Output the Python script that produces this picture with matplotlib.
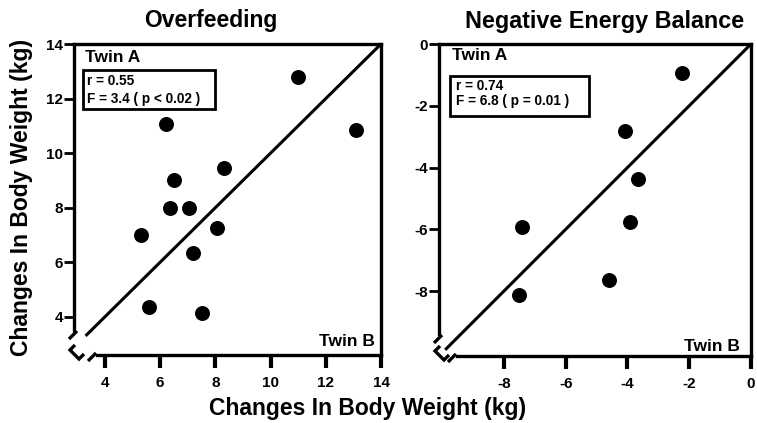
import matplotlib
matplotlib.use("Agg")
import matplotlib.pyplot as plt
from matplotlib.patches import Rectangle

plt.rcParams['font.family'] = ['Liberation Sans', 'DejaVu Sans']
plt.rcParams['font.weight'] = 'bold'
plt.rcParams['axes.unicode_minus'] = False

# overfeeding: twin B (x) vs twin A (y)
over_b = [11.0, 13.1, 6.2, 8.3, 6.5, 6.35, 7.05, 8.05, 5.3, 7.2, 5.6, 7.5]
over_a = [12.8, 10.85, 11.05, 9.45, 9.0, 8.0, 8.0, 7.25, 7.0, 6.35, 4.35, 4.15]
over_ticks = [4, 6, 8, 10, 12, 14]
over_line = [3.3, 14]
over_stats = ['r = 0.55', 'F = 3.4 ( p < 0.02 )']

# negative energy balance
neg_b = [-2.22, -4.09, -3.67, -3.93, -7.42, -4.6, -7.51]
neg_a = [-0.95, -2.81, -4.36, -5.76, -5.94, -7.63, -8.13]
neg_ticks = [-8, -6, -4, -2, 0]
neg_line = [-9.9, 0]
neg_stats = ['r = 0.74', 'F = 6.8 ( p = 0.01 )']

W, H = 757, 423
fig = plt.figure(figsize=(W / 100, H / 100), dpi=100)

LW = 2.4


def make_axes(x0, x1, y0, y1):
    return fig.add_axes([x0 / W, 1 - y1 / H, (x1 - x0) / W, (y1 - y0) / H])


def breaks(ax, wpx, hpx, spine_dy, spine_dx):
    # little discontinuity marks at the lower-left corner, given in pixels
    def seg(pts):
        xs = [p[0] / wpx for p in pts]
        ys = [p[1] / hpx for p in pts]
        ax.plot(xs, ys, color='k', lw=LW, transform=ax.transAxes,
                clip_on=False, solid_capstyle='butt', solid_joinstyle='miter')
    seg([(-5, spine_dy - 9), (3, spine_dy - 1)])
    seg([(1, 10), (-4, 5), (5, -4), (10, 1)])
    seg([(spine_dx - 9, -6), (spine_dx - 1, 2)])


def panel(ax, xb, ya, lim, ticks, line, stats, wpx, hpx,
          spine_dy, spine_dx, box, tx):
    ax.set_xlim(lim[0])
    ax.set_ylim(lim[1])
    ax.plot(line, line, color='k', lw=2.2, solid_capstyle='butt')
    ax.scatter(xb, ya, s=95, color='k', zorder=3)
    for s in ax.spines.values():
        s.set_linewidth(LW)
    lo_y = lim[1][0] + spine_dy / hpx * (lim[1][1] - lim[1][0])
    lo_x = lim[0][0] + spine_dx / wpx * (lim[0][1] - lim[0][0])
    ax.spines['left'].set_bounds(lo_y, lim[1][1])
    ax.spines['bottom'].set_bounds(lo_x, lim[0][1])
    breaks(ax, wpx, hpx, spine_dy, spine_dx)
    ax.set_xticks(ticks)
    ax.set_yticks(ticks)
    ax.tick_params(axis='x', length=9, width=3, pad=6, labelsize=11)
    ax.tick_params(axis='y', length=7, width=2, pad=1, labelsize=11)
    for lab in ax.get_xticklabels() + ax.get_yticklabels():
        lab.set_fontweight('bold')
    ax.text(tx[0], tx[1], 'Twin A', transform=ax.transAxes, fontsize=12.5,
            ha='left', va='center')
    ax.text(tx[2], tx[3], 'Twin B', transform=ax.transAxes, fontsize=12.5,
            ha='right', va='center')
    bx0, by0, bx1, by1 = box
    ax.add_patch(Rectangle((bx0, by0), bx1 - bx0, by1 - by0, fill=False,
                           lw=2.0, ec='k', transform=ax.transAxes))
    ax.text(tx[4], tx[5], stats[0], transform=ax.transAxes, fontsize=9.8,
            ha='left', va='center')
    ax.text(tx[4], tx[6], stats[1], transform=ax.transAxes, fontsize=9.8,
            ha='left', va='center')


ax1 = make_axes(74, 381, 44, 355)
panel(ax1, over_b, over_a, [(2.88, 14), (2.6, 14)], over_ticks, over_line,
      over_stats, 307, 311, 25, 23,
      (0.03, 0.79, 0.459, 0.916), (0.036, 0.955, 0.98, 0.042, 0.042, 0.882, 0.824))

ax2 = make_axes(439, 751, 44, 356)
panel(ax2, neg_b, neg_a, [(-10.1, 0), (-10.1, 0)], neg_ticks, neg_line,
      neg_stats, 312, 312, 22, 18,
      (0.035, 0.769, 0.481, 0.897), (0.042, 0.962, 0.965, 0.032, 0.055, 0.866, 0.816))

fig.text(0.279, 0.952, 'Overfeeding', ha='center', va='center', fontsize=16.5)
fig.text(0.799, 0.948, 'Negative Energy Balance', ha='center', va='center', fontsize=16.8)
fig.text(0.029, 0.534, 'Changes In Body Weight (kg)', rotation=90,
         ha='center', va='center', fontsize=16.5)
fig.text(0.485, 0.035, 'Changes In Body Weight (kg)', ha='center',
         va='center', fontsize=16.5)

fig.savefig('out.png', dpi=100)
